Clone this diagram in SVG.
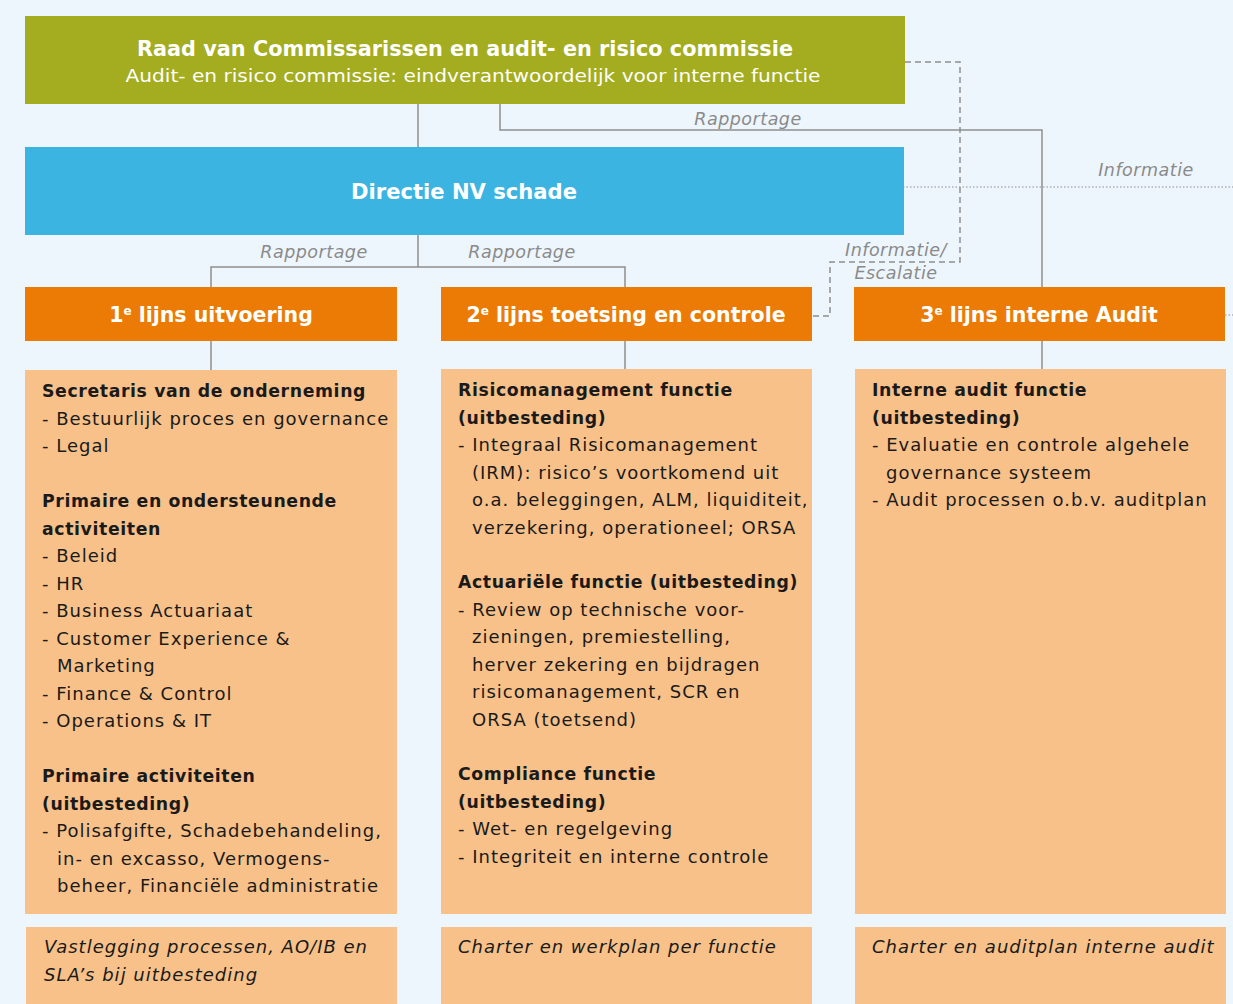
<svg xmlns="http://www.w3.org/2000/svg" width="1233" height="1004" viewBox="0 0 1233 1004">
<style>
.bg{fill:#EEF6FD}
.green{fill:#A3AD1F}
.blue{fill:#3BB4E1}
.hdr{fill:#EB7B05}
.body{fill:#F7C189}
.ln{fill:none;stroke:#8E8E8E;stroke-width:1.5}
.dash{fill:none;stroke:#8E8E8E;stroke-width:1.5;stroke-dasharray:6 4}
.dot{fill:none;stroke:#8E8E8E;stroke-width:1.2;stroke-dasharray:1.5 2}
text{font-family:"DejaVu Sans","Liberation Sans",sans-serif}
.ttl{fill:#fff;font-weight:bold;font-size:20.5px}
.sub{fill:#fff;font-size:18px}
.htx{fill:#fff;font-weight:bold;font-size:20.5px}
.sup{font-size:12px}
.lbl{fill:#8A8A8A;font-style:italic;font-size:17.5px;letter-spacing:0.5px}
.t{fill:#1A1A1A;font-size:18px;letter-spacing:1px}
.b{font-weight:bold;font-size:17.3px;letter-spacing:0.62px}
.it{fill:#1A1A1A;font-style:italic;font-size:18px;letter-spacing:1px}
</style>
<rect class="bg" x="0" y="0" width="1233" height="1004"/>

<g id="connectors">
<line class="ln" x1="418" y1="104" x2="418" y2="147"/>
<polyline class="ln" points="211,287 211,267 625,267 625,287"/>
<line class="ln" x1="418" y1="235" x2="418" y2="267"/>
<line class="ln" x1="211" y1="341" x2="211" y2="370"/>
<line class="ln" x1="625" y1="341" x2="625" y2="369"/>
<line class="ln" x1="1042" y1="341" x2="1042" y2="369"/>
<polyline class="ln" points="500,104 500,130 1042,130 1042,287"/>
<polyline class="dash" points="905,62 960,62 960,262 830,262 830,316 812,316"/>
<line class="dot" x1="903" y1="187" x2="1233" y2="187"/>
<line class="dot" x1="1225" y1="315" x2="1233" y2="315"/>
<text class="lbl" x="748" y="125" text-anchor="middle">Rapportage</text>
<text class="lbl" x="314" y="258" text-anchor="middle">Rapportage</text>
<text class="lbl" x="522" y="258" text-anchor="middle">Rapportage</text>
<text class="lbl" x="1146" y="176" text-anchor="middle">Informatie</text>
<text class="lbl" x="896" y="256" text-anchor="middle">Informatie/</text>
<text class="lbl" x="896" y="279" text-anchor="middle">Escalatie</text>
</g>

<g id="raad">
<rect class="green" x="25" y="16" width="880" height="88"/>
<text class="ttl" x="465" y="56" text-anchor="middle" textLength="656" lengthAdjust="spacingAndGlyphs">Raad van Commissarissen en audit- en risico commissie</text>
<text class="sub" x="473" y="82" text-anchor="middle" textLength="695" lengthAdjust="spacingAndGlyphs">Audit- en risico commissie: eindverantwoordelijk voor interne functie</text>
</g>

<g id="directie">
<rect class="blue" x="25" y="147" width="879" height="88"/>
<text class="htx" x="464" y="199" text-anchor="middle" textLength="226" lengthAdjust="spacingAndGlyphs">Directie NV schade</text>
</g>

<g id="lijn1">
<rect class="hdr" x="25" y="287" width="372" height="54"/>
<text class="htx" x="211" y="322" text-anchor="middle">1<tspan class="sup" dy="-7">e</tspan><tspan dy="7"> lijns uitvoering</tspan></text>
</g>
<g id="lijn2">
<rect class="hdr" x="441" y="287" width="371" height="54"/>
<text class="htx" x="626" y="322" text-anchor="middle">2<tspan class="sup" dy="-7">e</tspan><tspan dy="7"> lijns toetsing en controle</tspan></text>
</g>
<g id="lijn3">
<rect class="hdr" x="854" y="287" width="371" height="54"/>
<text class="htx" x="1039" y="322" text-anchor="middle">3<tspan class="sup" dy="-7">e</tspan><tspan dy="7"> lijns interne Audit</tspan></text>
</g>

<g id="body1">
<rect class="body" x="25" y="370" width="372" height="544"/>
<text class="t b" x="42" y="397">Secretaris van de onderneming</text>
<text class="t" x="42" y="424.5">- Bestuurlijk proces en governance</text>
<text class="t" x="42" y="452">- Legal</text>
<text class="t b" x="42" y="507">Primaire en ondersteunende</text>
<text class="t b" x="42" y="534.5">activiteiten</text>
<text class="t" x="42" y="562">- Beleid</text>
<text class="t" x="42" y="589.5">- HR</text>
<text class="t" x="42" y="617">- Business Actuariaat</text>
<text class="t" x="42" y="644.5">- Customer Experience &amp;</text>
<text class="t" x="57" y="672">Marketing</text>
<text class="t" x="42" y="699.5">- Finance &amp; Control</text>
<text class="t" x="42" y="727">- Operations &amp; IT</text>
<text class="t b" x="42" y="782">Primaire activiteiten</text>
<text class="t b" x="42" y="809.5">(uitbesteding)</text>
<text class="t" x="42" y="837">- Polisafgifte, Schadebehandeling,</text>
<text class="t" x="57" y="864.5">in- en excasso, Vermogens-</text>
<text class="t" x="57" y="892">beheer, Financiële administratie</text>
</g>

<g id="body2">
<rect class="body" x="441" y="369" width="371" height="545"/>
<text class="t b" x="458" y="396">Risicomanagement functie</text>
<text class="t b" x="458" y="423.5">(uitbesteding)</text>
<text class="t" x="458" y="451">- Integraal Risicomanagement</text>
<text class="t" x="472" y="478.5">(IRM): risico’s voortkomend uit</text>
<text class="t" x="472" y="506">o.a. beleggingen, ALM, liquiditeit,</text>
<text class="t" x="472" y="533.5">verzekering, operationeel; ORSA</text>
<text class="t b" x="458" y="588">Actuariële functie (uitbesteding)</text>
<text class="t" x="458" y="615.5">- Review op technische voor-</text>
<text class="t" x="472" y="643">zieningen, premiestelling,</text>
<text class="t" x="472" y="670.5">herver zekering en bijdragen</text>
<text class="t" x="472" y="698">risicomanagement, SCR en</text>
<text class="t" x="472" y="725.5">ORSA (toetsend)</text>
<text class="t b" x="458" y="780">Compliance functie</text>
<text class="t b" x="458" y="807.5">(uitbesteding)</text>
<text class="t" x="458" y="835">- Wet- en regelgeving</text>
<text class="t" x="458" y="862.5">- Integriteit en interne controle</text>
</g>

<g id="body3">
<rect class="body" x="855" y="369" width="371" height="545"/>
<text class="t b" x="872" y="396">Interne audit functie</text>
<text class="t b" x="872" y="423.5">(uitbesteding)</text>
<text class="t" x="872" y="451">- Evaluatie en controle algehele</text>
<text class="t" x="886" y="478.5">governance systeem</text>
<text class="t" x="872" y="506">- Audit processen o.b.v. auditplan</text>
</g>

<g id="foot1">
<rect class="body" x="26" y="927" width="371" height="77"/>
<text class="it" x="44" y="953">Vastlegging processen, AO/IB en</text>
<text class="it" x="44" y="980.5">SLA’s bij uitbesteding</text>
</g>
<g id="foot2">
<rect class="body" x="441" y="927" width="371" height="77"/>
<text class="it" x="458" y="953">Charter en werkplan per functie</text>
</g>
<g id="foot3">
<rect class="body" x="855" y="927" width="371" height="77"/>
<text class="it" x="872" y="953">Charter en auditplan interne audit</text>
</g>
</svg>
